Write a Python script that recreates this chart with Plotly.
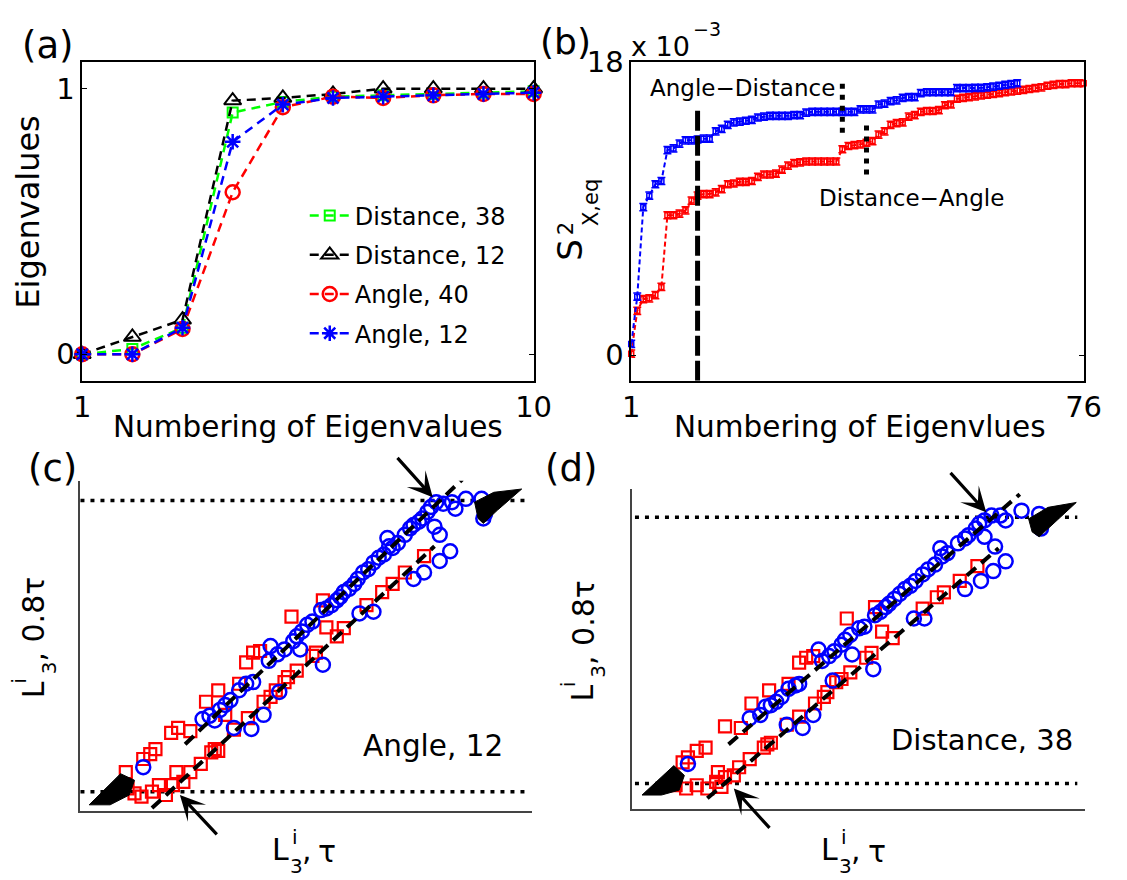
import plotly.graph_objects as go

W, H = 1127, 880
FONT = "DejaVu Sans"

# ---------------- data: panel (a) ----------------
eig_index = [1, 2, 3, 4, 5, 6, 7, 8, 9, 10]
dist38 = [0.0, 0.02, 0.10, 0.91, 0.95, 0.97, 0.975, 0.98, 0.985, 0.99]
dist12 = [0.0, 0.065, 0.13, 0.955, 0.965, 0.98, 1.0, 1.0, 1.0, 1.0]
angle40 = [0.0, 0.0, 0.095, 0.61, 0.93, 0.97, 0.965, 0.975, 0.98, 0.98]
angle12 = [0.0, 0.0, 0.10, 0.80, 0.94, 0.965, 0.97, 0.975, 0.98, 0.985]

# ---------------- data: panel (b) (units of 1e-3) ----------------
blue_b = [0.7, 3.6, 9.1, 9.8, 10.5, 10.7, 12.6, 12.7, 13.0, 13.2,
          13.2, 13.25, 13.3, 13.3, 13.75, 13.9, 14.15, 14.3, 14.35, 14.4,
          14.45, 14.6, 14.65, 14.7, 14.7, 14.7, 14.7, 14.75, 14.75, 14.9,
          14.95, 14.95, 14.95, 14.95, 14.95, 14.95, 14.95, 14.95, 15.1, 15.1,
          15.1, 15.4, 15.45, 15.6, 15.65, 15.8, 15.85, 15.85, 16.1, 16.15,
          16.15, 16.15, 16.15, 16.15, 16.4, 16.4, 16.4, 16.42, 16.42, 16.45,
          16.5, 16.55, 16.6, 16.65, 16.7]
red_b = [0.1, 2.73, 3.45, 3.5, 3.7, 4.2, 8.6, 8.6, 8.7, 8.9,
         9.5, 9.8, 9.9, 9.9, 10.0, 10.2, 10.5, 10.55, 10.65, 10.65,
         10.7, 10.95, 11.1, 11.1, 11.15, 11.4, 11.65, 11.8, 11.85, 11.9,
         11.9, 11.9, 11.9, 11.9, 11.9, 12.65, 12.85, 12.9, 12.95, 13.05,
         13.15, 13.55, 13.75, 14.15, 14.25, 14.3, 14.65, 14.75, 14.95, 15.0,
         15.0, 15.05, 15.35, 15.4, 15.75, 15.8, 15.85, 15.9, 15.95, 16.0,
         16.05, 16.1, 16.15, 16.2, 16.25, 16.3, 16.35, 16.4, 16.45, 16.55,
         16.6, 16.65, 16.65, 16.7, 16.7, 16.7]
n_blue = list(range(1, len(blue_b) + 1))
n_red = list(range(1, len(red_b) + 1))
err_b = 0.22
vline_dash_x = [12, 12]
vline_dash_y = [-1.565, 15.2]
vline_dot1_x = [36, 36]
vline_dot1_y = [13.67, 17.0]
vline_dot2_x = [40, 40]
vline_dot2_y = [11.1, 14.27]

# ---------------- data: panel (c) ----------------
c_blue_x = [1.85, 3.55, 3.75, 3.9, 4.05, 4.2, 4.35, 4.6, 4.8, 5.0, 5.45, 5.5, 5.7, 5.9, 6.15,
            6.25, 6.4, 6.55, 6.7, 6.95, 7.1, 7.25, 7.4, 7.5, 7.6, 7.75, 7.9, 8.0, 8.15, 8.3,
            8.45, 8.6, 8.75, 8.85, 8.9, 9.0, 9.15, 9.35, 9.5, 9.6, 9.75, 9.85, 10.0, 10.1, 10.25,
            10.45, 10.7, 10.8, 11.1, 11.55, 11.65, 11.6,
            4.45, 4.95, 5.3, 5.75, 6.35, 7.0, 8.05, 8.45, 9.6, 9.9, 10.35, 10.65, 10.2, 10.35]
c_blue_y = [1.35, 2.82, 2.92, 2.78, 3.1, 3.25, 3.4, 3.7, 3.9, 3.95, 4.6, 5.05, 4.8, 4.95, 5.2,
            5.35, 5.5, 5.7, 5.8, 6.15, 6.2, 6.3, 6.45, 6.55, 6.7, 6.8, 6.95, 7.1, 7.3, 7.4,
            7.6, 7.75, 7.85, 8.35, 8.1, 8.05, 8.2, 8.45, 8.65, 8.75, 8.85, 8.95, 9.15, 9.3, 9.45,
            9.4, 9.45, 9.25, 9.55, 9.55, 9.1, 8.95,
            2.55, 2.52, 2.95, 3.65, 4.95, 4.48, 6.05, 6.1, 7.1, 7.3, 7.65, 7.95, 8.7, 8.45]
c_red_x = [1.35, 1.85, 2.05, 2.2, 2.65, 2.85, 3.2, 3.65, 4.0, 4.2, 4.6, 4.8, 5.0, 5.2, 6.1,
           7.0, 7.1, 7.6, 7.4,
           1.4, 1.6, 1.8, 2.1, 2.3, 2.5, 2.7, 2.8, 3.0, 3.2, 3.5, 3.8, 3.9, 4.0, 4.45,
           4.85, 5.3, 5.5, 5.65, 5.9, 6.0, 6.25, 6.7, 6.8, 8.25, 8.7, 9.0, 9.35, 9.9]
c_red_y = [1.2, 1.6, 1.75, 1.9, 2.4, 2.55, 2.45, 3.35, 3.7, 2.95, 3.9, 4.55, 4.85, 4.9, 5.95,
           6.45, 5.62, 5.6, 5.35,
           0.7, 0.55, 0.45, 0.6, 0.8, 0.5, 0.8, 1.2, 0.9, 1.2, 1.45, 1.8, 1.9, 1.85, 2.5,
           2.85, 3.35, 3.5, 3.7, 3.95, 4.1, 4.3, 4.75, 4.85, 6.3, 6.7, 6.95, 7.3, 7.8]
c_fit_up_x = [3.05, 11.0]
c_fit_up_y = [2.05, 10.15]
c_fit_lo_x = [2.1, 10.2]
c_fit_lo_y = [0.1, 8.1]
c_levels = [9.5, 0.6]
c_level_x = [0.05, 12.78]
c_blob_lo_x = [0.3, 1.2, 1.6, 1.45, 0.9, 0.3]
c_blob_lo_y = [0.2, 1.15, 0.95, 0.5, 0.2, 0.2]
c_blob_hi_x = [12.7, 11.9, 11.35, 11.45, 11.6, 12.0, 12.7]
c_blob_hi_y = [9.85, 9.75, 9.45, 8.95, 8.8, 9.2, 9.85]
c_arrow_hi = (10.15, 9.6, 9.1, 10.85)   # head x, head y, tail x, tail y
c_arrow_lo = (2.9, 0.5, 4.0, -0.75)

# ---------------- data: panel (d) ----------------
d_blue_x = [1.75, 3.5, 3.8, 3.95, 4.1, 4.25, 4.4, 4.6, 4.8, 4.9, 5.45, 5.55, 5.75, 5.9, 6.1,
            6.2, 6.35, 6.6, 6.75, 7.05, 7.2, 7.35, 7.45, 7.6, 7.75, 7.9, 8.05, 8.2, 8.4, 8.55,
            8.75, 8.9, 8.95, 9.1, 9.4, 9.6, 9.7, 9.9, 10.0, 10.15, 10.35, 10.6, 10.75, 11.2,
            11.7, 11.75,
            4.55, 5.0, 5.3, 5.85, 6.4, 7.0, 8.15, 8.45, 9.6, 10.05, 10.4, 10.75, 10.15, 10.45]
d_blue_y = [1.45, 2.85, 2.95, 3.2, 3.25, 3.35, 3.5, 3.75, 3.85, 3.9, 4.95, 4.6, 4.75, 4.9, 5.1,
            5.25, 5.4, 5.6, 5.65, 6.0, 6.1, 6.25, 6.35, 6.5, 6.65, 6.8, 6.9, 7.05, 7.25, 7.4,
            7.55, 8.05, 7.8, 7.9, 8.2, 8.35, 8.45, 8.65, 8.8, 8.9, 9.05, 9.05, 8.9, 9.2,
            9.1, 8.65,
            2.65, 2.55, 2.95, 4.0, 4.8, 4.35, 5.9, 5.9, 6.8, 7.05, 7.35, 7.65, 8.4, 8.1]
d_red_x = [1.6, 1.75, 2.0, 2.25, 2.8, 3.25, 3.55, 4.05, 4.6, 4.9, 5.1, 5.3, 6.25, 7.05, 7.25, 7.55,
           1.4, 1.7, 2.0, 2.3, 2.55, 2.6, 2.7, 2.8, 3.05, 3.2, 3.5, 3.9, 4.0, 4.1, 4.55,
           4.9, 5.35, 5.6, 5.7, 5.95, 6.1, 6.35, 6.8, 6.95, 8.4, 8.8, 9.0, 9.45, 9.95]
d_red_y = [1.5, 1.65, 1.85, 1.95, 2.6, 2.55, 3.3, 3.7, 3.9, 4.55, 4.7, 4.75, 5.9, 6.25, 5.5, 5.3,
           0.8, 0.7, 0.8, 0.7, 0.9, 1.2, 0.75, 1.05, 1.1, 1.35, 1.6, 1.95, 2.05, 2.1, 2.65,
           2.9, 3.3, 3.5, 3.65, 3.95, 4.05, 4.25, 4.7, 4.85, 6.2, 6.55, 6.7, 7.05, 7.5]
d_fit_up_x = [2.9, 11.15]
d_fit_up_y = [2.05, 9.7]
d_fit_lo_x = [2.3, 10.55]
d_fit_lo_y = [0.4, 8.05]
d_levels = [9.0, 0.85]
d_level_x = [0.25, 12.78]
d_blob_lo_x = [0.45, 1.35, 1.65, 1.5, 1.0, 0.45]
d_blob_lo_y = [0.5, 1.4, 1.1, 0.65, 0.5, 0.5]
d_blob_hi_x = [12.75, 11.95, 11.4, 11.5, 11.7, 12.05, 12.75]
d_blob_hi_y = [9.45, 9.3, 8.95, 8.55, 8.4, 8.75, 9.45]
d_arrow_hi = (10.2, 9.15, 9.15, 10.4)
d_arrow_lo = (3.05, 0.7, 4.1, -0.55)

# ---------------- helpers (positions only) ----------------
def px(x, y):
    return x / W, 1 - y / H

def dom_x(x0, x1):
    return [x0 / W, x1 / W]

def dom_y(y0, y1):
    return [1 - y1 / H, 1 - y0 / H]

RED, BLUE, GREEN, BLACK = "#ff0000", "#0000ff", "#00ff00", "#000000"

fig = go.Figure()

# panel (a)
series_a = [
    ("Distance, 38", dist38, GREEN, "square-open", 10, 2.0),
    ("Distance, 12", dist12, BLACK, "triangle-up-open", 15, 2.0),
    ("Angle, 40", angle40, RED, "circle-open", 14, 2.5),
    ("Angle, 12", angle12, BLUE, "asterisk-open", 13, 2.5),
]
for i, (name, vals, col, sym, size, lw) in enumerate(series_a):
    fig.add_trace(go.Scatter(
        x=eig_index, y=vals, name=name, mode="lines+markers",
        legendgroup=f"g{i}", cliponaxis=False,
        line=dict(color=col, width=2.5, dash="9px,6px"),
        marker=dict(symbol=sym, size=size, color=col, line=dict(color=col, width=lw)),
        xaxis="x", yaxis="y"))

# panel (b)
for vals, nn, col in [(red_b, n_red, RED), (blue_b, n_blue, BLUE)]:
    fig.add_trace(go.Scatter(
        x=nn, y=vals, mode="lines+markers", showlegend=False, cliponaxis=False,
        line=dict(color=col, width=2, dash="5px,3px"),
        marker=dict(symbol="square-open", size=5, color=col, line=dict(color=col, width=1.5)),
        error_y=dict(type="constant", value=err_b, width=4, thickness=1.5, color=col),
        xaxis="x2", yaxis="y2"))
fig.add_trace(go.Scatter(x=vline_dash_x, y=vline_dash_y, mode="lines", showlegend=False,
                         line=dict(color=BLACK, width=5, dash="20px,5px"), xaxis="x2", yaxis="y2"))
for vx, vy in [(vline_dot1_x, vline_dot1_y), (vline_dot2_x, vline_dot2_y)]:
    fig.add_trace(go.Scatter(x=vx, y=vy, mode="lines", showlegend=False,
                             line=dict(color=BLACK, width=5, dash="5px,6px"), xaxis="x2", yaxis="y2"))

# panels (c), (d)
def scatter_panel(xa, ya, bx, by, rx, ry, fux, fuy, flx, fly, levels, lvx, blx, bly, bhx, bhy):
    for lv in levels:
        fig.add_trace(go.Scatter(x=lvx, y=[lv, lv], mode="lines", showlegend=False,
                                 line=dict(color=BLACK, width=3.5, dash="4px,6px"),
                                 xaxis=xa, yaxis=ya))
    fig.add_trace(go.Scatter(x=rx, y=ry, mode="markers", showlegend=False, cliponaxis=False,
                             marker=dict(symbol="square-open", size=12, color=RED,
                                         line=dict(color=RED, width=2.2)),
                             xaxis=xa, yaxis=ya))
    fig.add_trace(go.Scatter(x=bx, y=by, mode="markers", showlegend=False, cliponaxis=False,
                             marker=dict(symbol="circle-open", size=14, color=BLUE,
                                         line=dict(color=BLUE, width=2.5)),
                             xaxis=xa, yaxis=ya))
    for fx, fy in [(fux, fuy), (flx, fly)]:
        fig.add_trace(go.Scatter(x=fx, y=fy, mode="lines", showlegend=False,
                                 line=dict(color=BLACK, width=4, dash="12px,7px"),
                                 xaxis=xa, yaxis=ya))
    for qx, qy in [(blx, bly), (bhx, bhy)]:
        fig.add_trace(go.Scatter(x=qx, y=qy, mode="lines", fill="toself", fillcolor=BLACK,
                                 showlegend=False, line=dict(color=BLACK, width=1),
                                 xaxis=xa, yaxis=ya))

scatter_panel("x3", "y3", c_blue_x, c_blue_y, c_red_x, c_red_y, c_fit_up_x, c_fit_up_y,
              c_fit_lo_x, c_fit_lo_y, c_levels, c_level_x, c_blob_lo_x, c_blob_lo_y,
              c_blob_hi_x, c_blob_hi_y)
scatter_panel("x4", "y4", d_blue_x, d_blue_y, d_red_x, d_red_y, d_fit_up_x, d_fit_up_y,
              d_fit_lo_x, d_fit_lo_y, d_levels, d_level_x, d_blob_lo_x, d_blob_lo_y,
              d_blob_hi_x, d_blob_hi_y)

# ---------------- axes ----------------
box = dict(showline=True, linecolor=BLACK, linewidth=1.5, mirror="ticks", ticks="inside",
           ticklen=5, tickwidth=1, tickcolor=BLACK, showgrid=False, zeroline=False,
           tickfont=dict(family=FONT, size=29, color=BLACK))
bare = dict(showline=True, linecolor="#444", linewidth=2, mirror=False, ticks="",
            showticklabels=False, showgrid=False, zeroline=False)

layout_axes = dict(
    xaxis=dict(box, domain=dom_x(75, 537.5), range=[1, 10], tickvals=[1, 10], anchor="y"),
    yaxis=dict(box, domain=dom_y(46, 371), range=[-0.1, 1.1], tickvals=[0, 1], anchor="x"),
    xaxis2=dict(box, domain=dom_x(637.5, 1101), range=[1, 76], tickvals=[1, 76], anchor="y2"),
    yaxis2=dict(box, domain=dom_y(46, 371), range=[-1.565, 18.0], tickvals=[0, 18],
                ticktext=["0", "18"], anchor="x2"),
    xaxis3=dict(bare, domain=dom_x(72.5, 536), range=[0.03, 13.0], anchor="y3"),
    yaxis3=dict(bare, domain=dom_y(473, 810), range=[0.0, 10.1], anchor="x3"),
    xaxis4=dict(bare, domain=dom_x(638.8, 1102.5), range=[0.18, 13.0], anchor="y4"),
    yaxis4=dict(bare, domain=dom_y(481.7, 807.7), range=[0.07, 9.85], anchor="x4"),
)

# ---------------- annotations ----------------
ann = []

def text(t, x, y, size, angle=0, xanchor="center"):
    X, Y = px(x, y)
    ann.append(dict(text=t, x=X, y=Y, xref="paper", yref="paper", showarrow=False,
                    xanchor=xanchor, yanchor="middle", textangle=angle,
                    font=dict(family=FONT, size=size, color=BLACK)))

text("(a)", 40, 29, 37)
text("(b)", 570, 25, 36)
text("(c)", 45, 460, 37)
text("(d)", 576, 460, 37)

text("Numbering of Eigenvalues", 306, 418, 29.5)
text("Eigenvalues", 20, 199, 32, angle=-90)
text("Numbering of Eigenvlues", 872, 418, 29.5)

text("x 10", 667, 30, 27)
text("\u22123", 715, 12, 19)
text("S", 575, 237, 34, angle=-90)
text("2", 571, 216, 21, angle=-90)
text("X,eq", 597, 189, 21, angle=-90)
text("Angle\u2212Distance", 751, 72, 23)
text("Distance\u2212Angle", 925, 185, 23)

text("Angle, 12", 434.5, 743, 29.5)
text("Distance, 38", 997, 737, 29)

# axis labels of (c) and (d): L^i_3, tau  / L^i_3, 0.8 tau
for ox in (0, 563):
    text("L", 278 + ox, 849, 30)
    text("i", 293 + ox, 836, 20)
    text("3", 294.5 + ox, 866, 20)
    text("\u03c4", 326 + ox, 851, 30)
    text(",", 305 + ox, 849, 30)
for ox, oy in ((0, 0), (563, 3)):
    text("L", 25 + ox, 686 + oy, 30, angle=-90)
    text("i", 10 + ox, 677 + oy, 20, angle=-90)
    text("3", 41 + ox, 664 + oy, 20, angle=-90)
    text(", 0.8\u03c4", 25 + ox, 614 + oy, 30, angle=-90)

def arrow(xa, ya, a):
    hx, hy, tx, ty = a
    ann.append(dict(x=hx, y=hy, ax=tx, ay=ty, xref=xa, yref=ya, axref=xa, ayref=ya,
                    showarrow=True, arrowhead=3, arrowsize=1.3, arrowwidth=3.2,
                    arrowcolor=BLACK, text=""))

arrow("x3", "y3", c_arrow_hi)
arrow("x3", "y3", c_arrow_lo)
arrow("x4", "y4", d_arrow_hi)
arrow("x4", "y4", d_arrow_lo)

fig.update_layout(
    width=W, height=H, margin=dict(l=0, r=0, t=0, b=0),
    paper_bgcolor="white", plot_bgcolor="white",
    font=dict(family=FONT, color=BLACK),
    showlegend=True,
    legend=dict(x=303 / W, y=1 - 180 / H, xanchor="left", yanchor="top",
                bgcolor="rgba(0,0,0,0)", borderwidth=0, itemwidth=40,
                tracegroupgap=5, font=dict(family=FONT, size=24, color=BLACK)),
    annotations=ann,
    **layout_axes,
)

fig.write_html("out.html")
